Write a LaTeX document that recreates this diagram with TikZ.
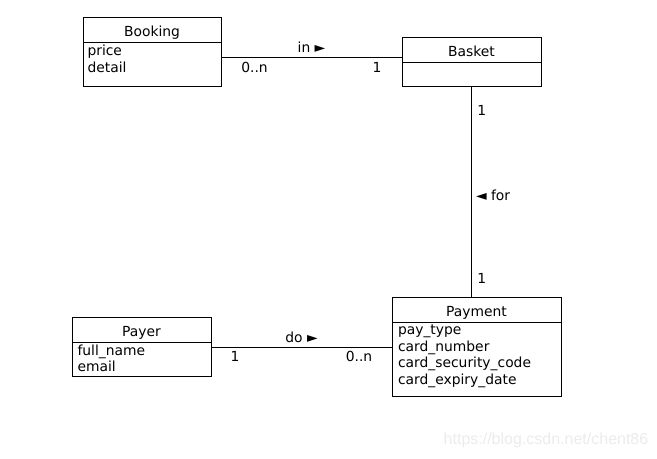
\documentclass[tikz,border=0pt]{standalone}
\usepackage{fontspec}
\setmainfont{DejaVu Sans}
\newfontfamily\markfont{Liberation Sans}

\begin{document}
\begin{tikzpicture}[x=0.75pt,y=-0.75pt,line width=0.75pt,
  every node/.style={font=\fontsize{10.4}{12.3}\selectfont},
  head/.style={rectangle,draw,inner sep=0pt,outer sep=0pt,minimum height=18.75pt,text height=9.75pt,text depth=0pt},
  body/.style={rectangle,draw,inner sep=0pt,outer sep=0pt,anchor=north},
  attr/.style={anchor=base west,align=left,inner sep=0pt},
  mult/.style={inner sep=0pt}]
\useasboundingbox (0,0) rectangle (657,458);

\path (152,29.5) node[head,minimum width=103.5pt] (bookinghead){Booking};
\path (bookinghead.south) node[body,minimum width=103.5pt,minimum height=33pt] (bookingbody){};
\path (87,72.3) node[attr] (bookingattr){price\\detail};

\path (471.5,49.5) node[head,minimum width=104.25pt] (baskethead){Basket};
\path (baskethead.south) node[body,minimum width=104.25pt,minimum height=18pt] (basketbody){};

\path (476.5,309.5) node[head,minimum width=126.75pt] (paymenthead){Payment};
\path (paymenthead.south) node[body,minimum width=126.75pt,minimum height=55.5pt] (paymentbody){};
\path (397.5,384) node[attr] (paymentattr){pay\_type\\card\_number\\card\_security\_code\\card\_expiry\_date};

\path (141.5,329.5) node[head,minimum width=104.25pt] (payerhead){Payer};
\path (payerhead.south) node[body,minimum width=104.25pt,minimum height=25.5pt] (payerbody){};
\path (77,371.7) node[attr] (payerattr){full\_name\\email};

\draw (bookingbody.east |- 0,57) -- node[mult,above=2.8pt]{in ►}
  node[mult,pos=0.185,below=3.75pt]{0..n} node[mult,pos=0.862,below=3.75pt]{1} (baskethead.west |- 0,57);
\draw (basketbody.south) -- node[mult,pos=0.517,right=3pt]{◄ for}
  node[mult,pos=0.118,right=4pt]{1} node[mult,pos=0.91,right=4pt]{1} (basketbody.south |- paymenthead.north);
\draw (payerbody.east |- 0,347) -- node[mult,above=2.8pt]{do ►}
  node[mult,pos=0.133,below=3pt]{1} node[mult,pos=0.818,below=3pt]{0..n} (paymentbody.west |- 0,347);

\path (546,440) node[inner sep=0pt,text=black!8,font=\markfont\fontsize{12}{14}\selectfont] (mark){https://blog.csdn.net/chent86};
\end{tikzpicture}
\end{document}
